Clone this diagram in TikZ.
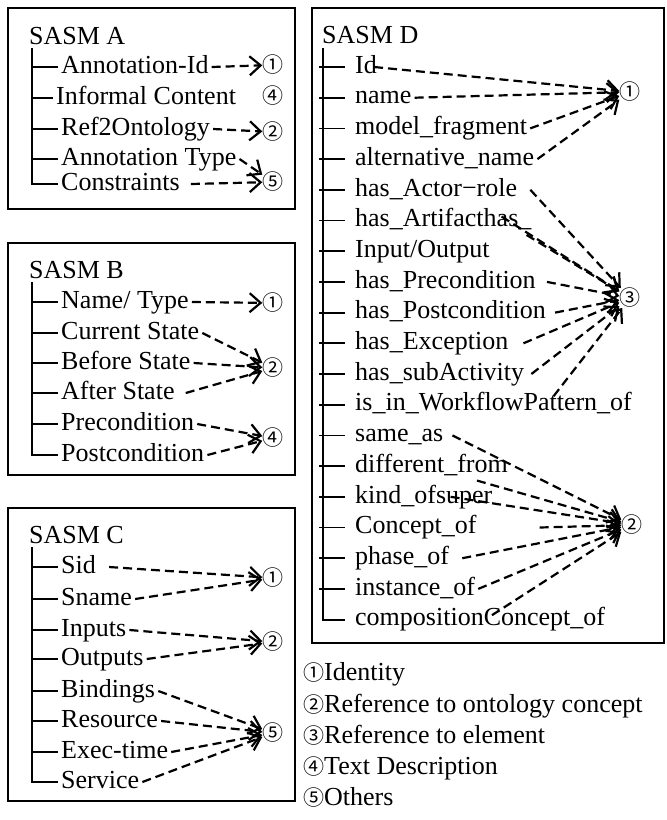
\documentclass[tikz,border=0pt]{standalone}
\usepackage{fontspec}
\setmainfont{Liberation Serif}
\newfontfamily\circfont{Noto Sans CJK SC}
\usetikzlibrary{arrows.meta}
\newcommand{\cnum}[1]{{\circfont\fontsize{21}{24}\selectfont #1}}
\tikzset{itm/.style={anchor=west,inner sep=3pt,font=\fontsize{26}{30}\selectfont,text height=17.5pt,text depth=5pt}}
\tikzset{num/.style={inner sep=0pt}}
\tikzset{da/.style={line width=2.2pt,dash pattern=on 9pt off 5pt,-{Straight Barb[length=11pt,width=19pt]}}}
\tikzset{bx/.style={line width=1.8pt}}
\tikzset{tr/.style={line width=1.8pt}}

\begin{document}
\begin{tikzpicture}[x=1pt,y=-1pt]
  \useasboundingbox (0,0) rectangle (667,820);
  % SASM A
  \draw[bx] (8,8) rectangle (295,209);
  \node[itm] (tA) at (26,38) {SASM A};
  \node[num] (cA1) at (273,65) {\cnum{①}};
  \node[num] (cA4) at (273,96) {\cnum{④}};
  \node[num] (cA2) at (273,132) {\cnum{②}};
  \node[num] (cA5) at (273,182) {\cnum{⑤}};
  \node[itm] (itA1) at (58,67) {Annotation-Id};
  \node[itm] (itA2) at (53,98) {Informal Content};
  \node[itm] (itA3) at (58,129) {Ref2Ontology};
  \node[itm] (itA4) at (58,159) {Annotation Type};
  \node[itm] (itA5) at (58,184) {Constraints};
  \coordinate (trA) at (32,48);
  \draw[tr] (trA) |- (itA5.west);
  \foreach \n in {1,...,4} \draw[tr] (trA |- itA\n.west) -- (itA\n.west);
  \draw[da] (itA1.east) -- (cA1);
  \draw[da] (itA3.east) -- (cA2);
  \draw[da] (itA4.east) -- (cA5);
  \draw[da] ([xshift=8pt]itA5.east) -- (cA5);

  % SASM B
  \draw[bx] (8,243) rectangle (295,475);
  \node[itm] (tB) at (26,272) {SASM B};
  \node[num] (cB1) at (273,303) {\cnum{①}};
  \node[num] (cB2) at (273,368) {\cnum{②}};
  \node[num] (cB4) at (273,438) {\cnum{④}};
  \node[itm] (itB1) at (58,302) {Name/ Type};
  \node[itm] (itB2) at (58,333) {Current State};
  \node[itm] (itB3) at (58,363) {Before State};
  \node[itm] (itB4) at (58,393) {After State};
  \node[itm] (itB5) at (58,424) {Precondition};
  \node[itm] (itB6) at (58,455) {Postcondition};
  \coordinate (trB) at (32,282);
  \draw[tr] (trB) |- (itB6.west);
  \foreach \n in {1,...,5} \draw[tr] (trB |- itB\n.west) -- (itB\n.west);
  \draw[da] (itB1.east) -- (cB1);
  \draw[da] (itB2.east) -- (cB2);
  \draw[da] (itB3.east) -- (cB2);
  \draw[da] ([xshift=8pt]itB4.east) -- (cB2);
  \draw[da] (itB5.east) -- (cB4);
  \draw[da] (itB6.east) -- (cB4);

  % SASM C
  \draw[bx] (8,508) rectangle (295,801);
  \node[itm] (tC) at (26,537) {SASM C};
  \node[num] (cC1) at (273,578) {\cnum{①}};
  \node[num] (cC2) at (273,642) {\cnum{②}};
  \node[num] (cC5) at (273,733) {\cnum{⑤}};
  \node[itm] (itC1) at (58,567) {Sid};
  \node[itm] (itC2) at (58,599) {Sname};
  \node[itm] (itC3) at (58,630) {Inputs};
  \node[itm] (itC4) at (58,659) {Outputs};
  \node[itm] (itC5) at (58,691) {Bindings};
  \node[itm] (itC6) at (58,721) {Resource};
  \node[itm] (itC7) at (58,752) {Exec-time};
  \node[itm] (itC8) at (58,782) {Service};
  \coordinate (trC) at (32,547);
  \draw[tr] (trC) |- (itC8.west);
  \foreach \n in {1,...,7} \draw[tr] (trC |- itC\n.west) -- (itC\n.west);
  \draw[da] ([xshift=10pt]itC1.east) -- (cC1);
  \draw[da] (itC2.east) -- (cC1);
  \draw[da] (itC3.east) -- (cC2);
  \draw[da] (itC4.east) -- (cC2);
  \draw[da] (itC5.east) -- (cC5);
  \draw[da] (itC6.east) -- (cC5);
  \draw[da] (itC7.east) -- (cC5);
  \draw[da] (itC8.east) -- (cC5);

  % SASM D
  \draw[bx] (312,8) rectangle (664,643);
  \node[itm] (tD) at (319,37) {SASM D};
  \node[num] (cD1) at (630,92) {\cnum{①}};
  \node[num] (cD3) at (630,298) {\cnum{③}};
  \node[num] (cD2) at (632,525) {\cnum{②}};
  \node[itm] (itD1) at (352,67) {Id};
  \node[itm] (itD2) at (352,97.7) {name};
  \node[itm] (itD3) at (352,128.4) {model\_fragment};
  \node[itm] (itD4) at (352,159.1) {alternative\_name};
  \node[itm] (itD5) at (352,189.8) {has\_Actor−role};
  \node[itm] (itD6) at (352,220.5) {has\_Artifacthas\_};
  \node[itm] (itD7) at (352,251.2) {Input/Output};
  \node[itm] (itD8) at (352,281.9) {has\_Precondition};
  \node[itm] (itD9) at (352,312.6) {has\_Postcondition};
  \node[itm] (itD10) at (352,343.3) {has\_Exception};
  \node[itm] (itD11) at (352,374) {has\_subActivity};
  \node[itm] (itD12) at (352,404.7) {is\_in\_WorkflowPattern\_of};
  \node[itm] (itD13) at (352,435.4) {same\_as};
  \node[itm] (itD14) at (352,466.1) {different\_from};
  \node[itm] (itD15) at (352,496.8) {kind\_ofsuper};
  \node[itm] (itD16) at (352,527.5) {Concept\_of};
  \node[itm] (itD17) at (352,558.2) {phase\_of};
  \node[itm] (itD18) at (352,588.9) {instance\_of};
  \node[itm] (itD19) at (352,619.6) {compositionConcept\_of};
  \coordinate (trD) at (323,48);
  \draw[tr] (trD) -- (trD |- itD19.west) -- ([xshift=-7pt]itD19.west);
  \foreach \n in {1,...,18} \draw[tr] ([xshift=-4pt]trD |- itD\n.west) -- ([xshift=-7pt]itD\n.west);
  \draw[da] ([xshift=-6pt]itD1.east) -- (cD1);
  \draw[da] (itD2.east) -- (cD1);
  \draw[da] (itD3.east) -- (cD1);
  \draw[da] (itD4.east) -- (cD1);
  \draw[da] ([xshift=10pt]itD5.east) -- (cD3);
  \draw[da] ([xshift=-33pt,yshift=4pt]itD6.east) -- (cD3);
  \draw[da] ([xshift=-8pt]itD6.south east) -- (cD3);
  \draw[da] ([xshift=8pt]itD8.east) -- (cD3);
  \draw[da] ([xshift=6pt]itD9.east) -- (cD3);
  \draw[da] ([xshift=12pt]itD10.east) -- (cD3);
  \draw[da] ([xshift=4pt]itD11.east) -- (cD3);
  \draw[da] ([xshift=60pt,yshift=-6pt]itD12.north) -- (cD3);
  \draw[da] ([xshift=6pt]itD13.east) -- (cD2);
  \draw[da] ([xshift=-34pt]itD14.south east) -- (cD2);
  \draw[da] ([xshift=-45pt]itD15.east) -- (cD2);
  \draw[da] ([xshift=60pt]itD16.east) -- (cD2);
  \draw[da] ([xshift=10pt]itD17.east) -- (cD2);
  \draw[da] (itD18.east) -- (cD2);
  \draw[da] ([xshift=140pt,yshift=-10pt]itD19.north west) -- (cD2);

  % legend
  \node[itm] (lg1) at (300,674) {\cnum{①}Identity};
  \node[itm] (lg2) at (300,706) {\cnum{②}Reference to ontology concept};
  \node[itm] (lg3) at (300,737) {\cnum{③}Reference to element};
  \node[itm] (lg4) at (300,768) {\cnum{④}Text Description};
  \node[itm] (lg5) at (300,799) {\cnum{⑤}Others};
\end{tikzpicture}
\end{document}
